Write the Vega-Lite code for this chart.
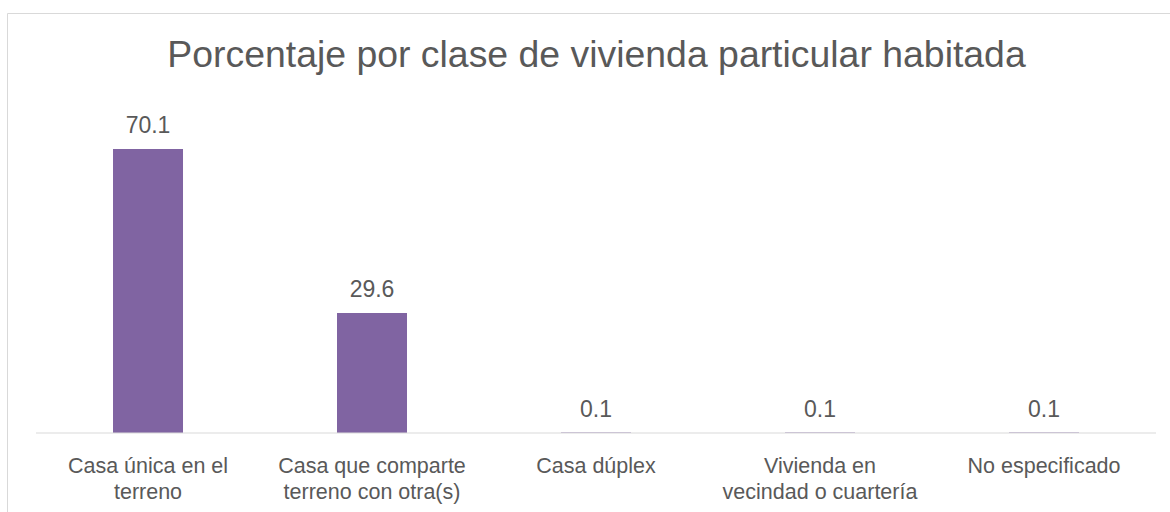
{
  "$schema": "https://vega.github.io/schema/vega-lite/v6.json",
  "autosize": "none",
  "width": 1165,
  "height": 501,
  "padding": {"left": 7, "top": 13, "right": -2, "bottom": -2},
  "background": "white",
  "title": {
    "text": "Porcentaje por clase de vivienda particular habitada",
    "font": "Liberation Sans",
    "fontSize": 37.4,
    "fontWeight": "normal",
    "color": "#595959",
    "anchor": "middle",
    "baseline": "alphabetic",
    "offset": -91,
    "dx": 7
  },
  "config": {
    "view": {"stroke": "#d9d9d9", "strokeWidth": 1},
    "font": "Liberation Sans"
  },
  "data": {
    "values": [
      {"clase": "Casa única en el terreno", "porcentaje": 70.1},
      {"clase": "Casa que comparte terreno con otra(s)", "porcentaje": 29.6},
      {"clase": "Casa dúplex", "porcentaje": 0.1},
      {"clase": "Vivienda en vecindad o cuartería", "porcentaje": 0.1},
      {"clase": "No especificado", "porcentaje": 0.1}
    ]
  },
  "encoding": {
    "x": {
      "field": "clase",
      "type": "nominal",
      "sort": null,
      "scale": {"paddingInner": 0.6875, "paddingOuter": 0.4442, "align": 0.5327},
      "axis": {
        "title": null,
        "offset": -81,
        "domain": false,
        "ticks": false,
        "labelAngle": 0,
        "labelPadding": 22,
        "labelFont": "Liberation Sans",
        "labelFontSize": 21.5,
        "labelColor": "#595959",
        "labelLineHeight": 26,
        "labelLimit": 0,
        "labelExpr": "datum.value == 'Casa única en el terreno' ? ['Casa única en el', 'terreno'] : datum.value == 'Casa que comparte terreno con otra(s)' ? ['Casa que comparte', 'terreno con otra(s)'] : datum.value == 'Vivienda en vecindad o cuartería' ? ['Vivienda en', 'vecindad o cuartería'] : datum.value"
      }
    }
  },
  "layer": [
    {
      "mark": {"type": "bar", "color": "#8064A2"},
      "encoding": {
        "y": {
          "field": "porcentaje",
          "type": "quantitative",
          "scale": {"domain": [-20, 103.7], "nice": false, "zero": false},
          "axis": null
        }
      }
    },
    {
      "mark": {"type": "tick", "orient": "horizontal", "size": 224, "thickness": 1, "color": "#d9d9d9", "opacity": 1},
      "encoding": {
        "y": {"datum": 0, "type": "quantitative"}
      }
    },
    {
      "mark": {
        "type": "text",
        "font": "Liberation Sans",
        "fontSize": 23,
        "color": "#595959",
        "baseline": "alphabetic",
        "align": "center",
        "dy": -16
      },
      "encoding": {
        "y": {"field": "porcentaje", "type": "quantitative"},
        "text": {"field": "porcentaje", "type": "quantitative", "format": ".1f"}
      }
    }
  ]
}
